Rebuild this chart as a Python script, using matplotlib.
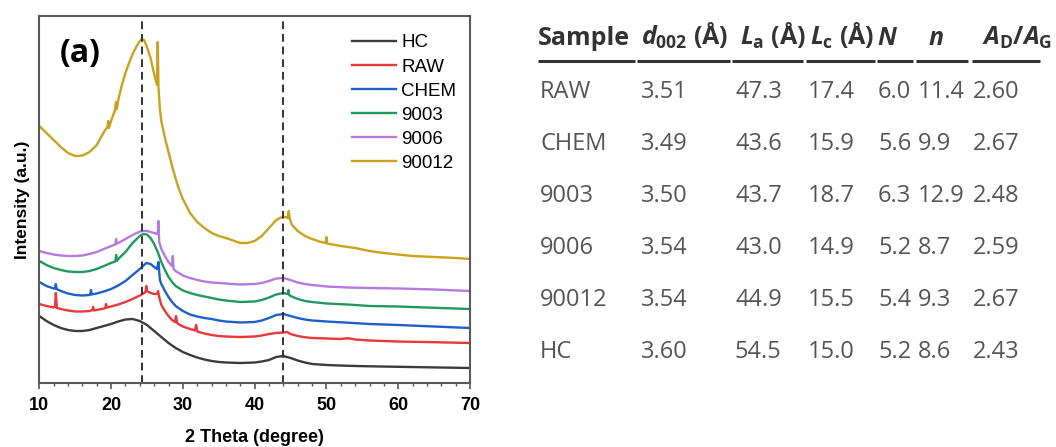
import matplotlib.pyplot as plt

plt.rcParams['mathtext.fontset'] = 'custom'
plt.rcParams['mathtext.it'] = 'Open Sans:italic:bold'
plt.rcParams['mathtext.rm'] = 'Open Sans:bold'
plt.rcParams['mathtext.bf'] = 'Open Sans:bold'

# XRD patterns (2 theta in degree, intensity in arbitrary units)
hc_x = [10, 11, 12, 13, 14, 15, 16, 17, 18, 19, 20, 21, 22, 23, 24, 25, 26, 27, 28, 29, 30, 31, 32, 33,
        34, 35, 36, 38, 40, 41, 42, 43, 44, 45, 46, 47, 48, 50, 53, 56, 60, 65, 70]
hc_y = [67, 62, 58, 55, 53, 52, 52, 53, 55, 57, 59, 61.5, 63.5, 64, 62, 58, 52, 46, 40, 35, 31, 28, 25.5, 23.5,
        22, 21, 20.5, 20, 20.5, 21.5, 23, 26, 27, 25, 22.5, 20.5, 19, 18, 17.2, 16.7, 16.2, 15.6, 15]

raw_x = [10, 11, 12, 12.2, 12.3, 12.45, 13, 14, 15, 16, 17, 17.4, 17.5, 17.6, 18, 19, 19.2, 19.3, 19.4, 20,
         21, 22, 23, 24, 24.6, 24.8, 24.9, 25.0, 25.5, 26, 26.4, 26.55, 26.7, 27, 27.5, 28, 28.5, 28.9,
         29.05, 29.2, 29.6, 30, 31, 31.7, 31.85, 32, 33, 34, 35, 36, 38, 40, 41, 42, 43, 44, 44.5, 45,
         46, 47, 48, 50, 52, 53, 54, 56, 60, 65, 70]
raw_y = [79, 77, 75.5, 76, 90, 75, 74, 72.5, 71.5, 71.5, 72, 73, 76, 72.5, 73, 74.5, 75, 79, 75.5, 76.5,
         78.5, 81, 84, 87.5, 90, 91, 97, 92, 90, 89, 89, 92, 86, 78, 72, 67, 63, 61,
         67, 60, 58, 56.5, 54, 52.5, 58, 51.5, 49.5, 48, 47, 46.5, 46, 46.5, 47.5, 49, 50, 50.5, 51, 49,
         47, 45.8, 45, 44.5, 44, 44.8, 43.5, 42.5, 41.5, 40.8, 40]

chem_x = [10, 11, 12, 12.2, 12.3, 12.4, 13, 14, 15, 16, 17, 17.1, 17.2, 17.3, 18, 19, 20, 21, 22, 23, 24,
          24.9, 25.5, 26, 26.4, 26.6, 26.8, 27, 27.5, 28, 28.5, 29, 30, 31, 32, 33, 34, 35, 36, 38, 40,
          41, 42, 43, 44, 45, 46, 47, 48, 50, 53, 56, 60, 65, 70]
chem_y = [101, 97, 94.5, 94.5, 99, 94, 92, 89.5, 88, 87.5, 88, 88.5, 93, 88.5, 89.5, 91.5, 94, 97.5, 102, 108, 114,
          120, 119, 116, 114, 121, 103, 99, 92, 86, 81, 77, 72, 68.5, 66.5, 65, 64, 62.5, 61.5, 60.5, 61,
          62.5, 65, 68, 69, 67, 65, 63.5, 62.5, 61.5, 60.3, 59, 58, 56.5, 55]

s9003_x = [10, 11, 12, 13, 14, 15, 16, 17, 18, 19, 20, 20.6, 20.7, 20.8, 21, 22, 23, 24, 24.5, 25, 25.5,
           26, 26.5, 27, 27.5, 28, 28.5, 29, 30, 31, 32, 33, 34, 35, 36, 38, 40, 41, 42, 43, 44, 44.6,
           44.7, 44.8, 45, 46, 47, 48, 50, 53, 56, 60, 65, 70]
s9003_y = [122, 118, 115, 113, 111.5, 111, 111, 112, 114, 117, 120, 121.5, 128, 122, 124, 131, 140, 147, 149,
           148.5, 145, 139, 131, 121, 113, 106, 101, 97, 92.5, 90, 88, 86.5, 85, 83.5, 82.5, 81, 81.5, 83,
           85.5, 88.5, 90, 89, 93, 88, 87, 84, 82, 81, 79.5, 78.5, 77, 76.5, 75.2, 74]

s9006_x = [10, 11, 12, 13, 14, 15, 16, 17, 18, 19, 20, 20.6, 20.7, 20.8, 21, 22, 23, 24, 24.5, 25, 25.5,
           26, 26.5, 26.6, 26.7, 27, 27.5, 28, 28.5, 28.6, 28.7, 29, 30, 31, 32, 33, 34, 35, 36, 38, 40,
           41, 42, 43, 44, 45, 46, 47, 48, 50, 53, 56, 60, 65, 70]
s9006_y = [132, 130, 128.5, 127.5, 127, 127, 127.5, 129, 131, 134, 137, 138.5, 144, 139.5, 140, 144, 148, 151.5,
           152, 152, 151, 150, 149, 162, 141, 134, 127, 121, 117, 127, 114, 112, 107.5, 105, 103, 101.5,
           100.5, 100, 99.5, 98.5, 99, 100, 102, 104.5, 105, 103, 100.5, 99, 98, 96.5, 95.5, 95, 94.5,
           93.5, 92]

s90012_x = [10, 11, 12, 13, 14, 15, 16, 17, 18, 19, 19.5, 19.6, 19.7, 20, 20.5, 20.7, 20.8, 21, 21.5, 22,
            22.5, 23, 23.5, 24, 24.3, 24.6, 25, 25.5, 26, 26.4, 26.5, 26.6, 26.8, 27, 27.5, 28, 28.5, 29,
            29.5, 30, 31, 32, 33, 34, 35, 36, 37, 38, 39, 40, 41, 42, 43, 43.8, 44.3, 44.6, 44.75, 44.9,
            45.2, 46, 47, 48, 49, 49.9, 50, 50.1, 52, 54, 56, 58, 60, 62, 65, 68, 70]
s90012_y = [257, 250, 243, 236, 230, 227, 227.5, 231, 238, 251, 256, 262, 255, 262, 272, 281, 274, 283, 298,
            310, 320, 329, 336, 342, 344, 343, 336, 325, 309, 298, 341, 296, 274, 262, 245, 231, 217, 204,
            193, 184, 170, 161, 155, 150, 147, 145, 142.5, 140, 140, 142, 147, 155, 163, 166, 166, 165,
            172, 164, 158, 152, 147, 144, 141.5, 140, 146, 139.5, 137, 135, 132, 130, 128.5, 127, 126,
            125, 124]

series_labels = ['HC', 'RAW', 'CHEM', '9003', '9006', '90012']
series_colors = ['#3c3c3c', '#e8383a', '#1e5fcc', '#22995c', '#b57ae0', '#c9a21e']
peak_positions = [24.3, 43.9]

# structural parameters
samples = ['RAW', 'CHEM', '9003', '9006', '90012', 'HC']
d002 = [3.51, 3.49, 3.50, 3.54, 3.54, 3.60]
la = [47.3, 43.6, 43.7, 43.0, 44.9, 54.5]
lc = [17.4, 15.9, 18.7, 14.9, 15.5, 15.0]
n_big = [6.0, 5.6, 6.3, 5.2, 5.4, 5.2]
n_small = [11.4, 9.9, 12.9, 8.7, 9.3, 8.6]
ad_ag = [2.60, 2.67, 2.48, 2.59, 2.67, 2.43]
headers = ['Sample', r'$d_{\mathrm{002}}$ (Å)', r'$L_{\mathrm{a}}$ (Å)', r'$L_{\mathrm{c}}$ (Å)',
           r'$N$', r'$n$', r'$A_{\mathrm{D}}/A_{\mathrm{G}}$']


def plot_xrd(fig):
    ax = fig.add_axes([39.3 / 1056, 1 - 383 / 447, 430.7 / 1056, 367 / 447])
    curves = [(hc_x, hc_y), (raw_x, raw_y), (chem_x, chem_y),
              (s9003_x, s9003_y), (s9006_x, s9006_y), (s90012_x, s90012_y)]
    for (x, y), label, color in zip(curves, series_labels, series_colors):
        ax.plot(x, y, color=color, lw=1.7, label=label)
    for p in peak_positions:
        ax.axvline(p, color='#333333', lw=1.4, ls=(0, (4, 2.5)))

    ax.set_xlim(10, 70)
    ax.set_ylim(0, 367)
    ax.set_xticks(range(10, 71, 10))
    ax.set_xticks(range(10, 71, 2), minor=True)
    ax.set_yticks([])
    ax.tick_params(axis='x', which='major', direction='out', length=4, width=1.2, color='#555555', pad=6)
    ax.tick_params(axis='x', which='minor', direction='out', length=2.5, width=1.0, color='#555555')
    for lab in ax.get_xticklabels():
        lab.set_fontfamily('Liberation Sans')
        lab.set_fontweight('bold')
        lab.set_fontsize(13)
    for s in ax.spines.values():
        s.set_color('#5a5a5a')
        s.set_linewidth(1.5)

    ax.set_xlabel('2 Theta (degree)', fontfamily='Liberation Sans', fontweight='bold', fontsize=13, labelpad=11)
    ax.set_ylabel('Intensity (a.u.)', fontfamily='Liberation Sans', fontweight='bold', fontsize=12.5, labelpad=7)
    ax.text(0.048, 0.899, '(a)', transform=ax.transAxes, fontfamily='Open Sans', fontweight='bold',
            fontsize=23, ha='left', va='center')

    ax.legend(loc='upper left', bbox_to_anchor=(0.727, 0.95), frameon=False, borderpad=0, borderaxespad=0,
              handlelength=2.3, handletextpad=0.3, labelspacing=0.37,
              prop={'family': 'Liberation Sans', 'size': 13.5})


def plot_table(fig):
    tab = fig.add_axes([0, 0, 1, 1])
    tab.set_xlim(0, 1056)
    tab.set_ylim(447, 0)
    tab.axis('off')

    head_x = [538, 641, 740, 810, 877, 928, 982]
    for x, h in zip(head_x, headers):
        tab.text(x, 45, h, fontfamily='Open Sans', fontweight='bold', fontsize=18,
                 color='#333333', ha='left', va='baseline')

    rule_spans = [(538, 635), (637, 730), (732, 803), (806, 875), (877, 913), (916, 968), (972, 1040)]
    for a, b in rule_spans:
        tab.plot([a, b], [61, 61], color='#333333', lw=2.2, solid_capstyle='butt')

    col_x = [540, 641, 735, 808, 878, 918, 973]
    for i, row in enumerate(zip(samples, d002, la, lc, n_big, n_small, ad_ag)):
        cells = [row[0], f'{row[1]:.2f}', f'{row[2]:.1f}', f'{row[3]:.1f}',
                 f'{row[4]:.1f}', f'{row[5]:.1f}', f'{row[6]:.2f}']
        y = 98.5 + i * 51.8
        for x, c in zip(col_x, cells):
            tab.text(x, y, c, fontfamily='Open Sans', fontsize=17, color='#555555',
                     ha='left', va='baseline')


def main():
    fig = plt.figure(figsize=(10.56, 4.47), dpi=100)
    plot_xrd(fig)
    plot_table(fig)
    fig.savefig('out.png', dpi=100)


if __name__ == '__main__':
    main()
